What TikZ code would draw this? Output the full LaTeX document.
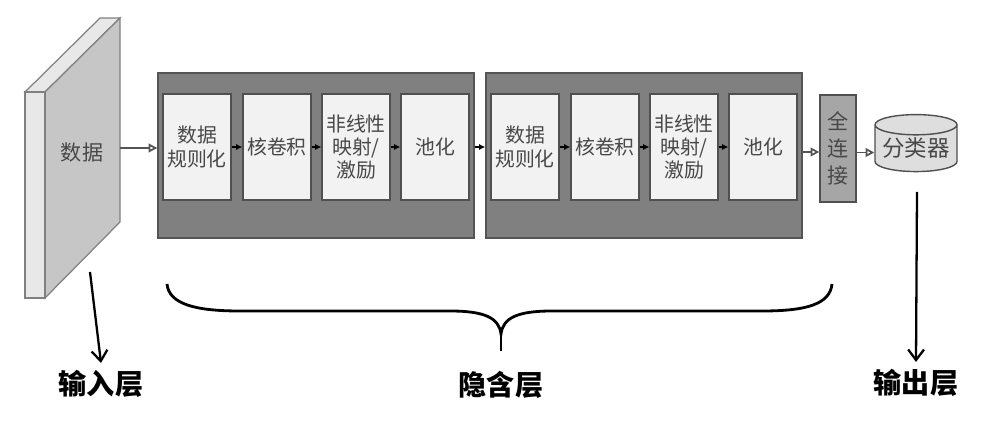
\documentclass[tikz,border=0pt]{standalone}
\usepackage{fontspec}
\usepackage{tikz}
\usetikzlibrary{arrows.meta,shapes.geometric}
\newfontfamily\cjk{Noto Sans CJK SC}

\definecolor{stagegray}{HTML}{808080}
\definecolor{stageedge}{HTML}{555555}
\definecolor{layerfill}{HTML}{F2F2F2}
\definecolor{layeredge}{HTML}{505050}
\definecolor{textgray}{HTML}{484848}
\definecolor{slabfront}{HTML}{E8E8E8}
\definecolor{slabside}{HTML}{C6C6C6}
\definecolor{fcgray}{HTML}{A6A6A6}
\definecolor{clsfill}{HTML}{DEDEDE}
\definecolor{arrowgray}{HTML}{555555}

\begin{document}
\begin{tikzpicture}[x=0.02cm,y=-0.02cm,
    stage/.style={draw=stageedge,fill=stagegray,line width=0.8pt,
      minimum width=6.32cm,minimum height=3.3cm,inner sep=0pt},
    layer/.style={draw=layeredge,fill=layerfill,line width=0.8pt,
      minimum width=1.36cm,minimum height=2.12cm,inner sep=0pt,
      align=center,text=textgray,font=\cjk\fontsize{11.3}{13.2}\selectfont},
    fcbox/.style={draw=layeredge,fill=fcgray,line width=0.8pt,
      minimum width=0.72cm,minimum height=2.14cm,inner sep=0pt,
      align=center,text=textgray,font=\cjk\fontsize{12}{15.5}\selectfont},
    openarrow/.style={-{Triangle[open,length=5pt,width=5pt]},draw=arrowgray,line width=1pt},
    smallarrow/.style={-{Latex[length=3.5pt,width=3.5pt]},line width=0.7pt},
    downarrow/.style={-{Straight Barb[length=6pt,width=9pt]},line width=1.3pt},
    layerlabel/.style={font=\cjk\bfseries\fontsize{16}{18}\selectfont,inner sep=4pt}]
  \useasboundingbox (0,0) rectangle (1001,432);

  % input data slab
  \draw[draw=gray,fill=slabfront,line width=0.7pt] (25,92) -- (100,18) -- (120,18) -- (45,92) -- cycle;
  \draw[draw=gray,fill=slabside,line width=0.7pt] (45,92) -- (120,18) -- (120,222) -- (45,298) -- cycle;
  \draw[draw=gray,fill=slabfront,line width=0.7pt] (25,92) rectangle (45,298);
  \node[text=textgray,font=\cjk\fontsize{12}{14}\selectfont] (data) at (82,153) {数据};
  \coordinate (slab) at (120,148);

  % hidden stages
  \foreach \s/\dx in {1/0,2/328}{
    \node[stage] (s\s) at (316+\dx,155.5) {};
    \node[layer] (s\s-1) at (197+\dx,147) {数据\\规则化};
    \node[layer] (s\s-2) at (277+\dx,147) {核卷积};
    \node[layer] (s\s-3) at (356+\dx,147) {非线性\\映射/\\激励};
    \node[layer] (s\s-4) at (435+\dx,147) {池化};
    \draw[smallarrow] (s\s-1) -- (s\s-2);
    \draw[smallarrow] (s\s-2) -- (s\s-3);
    \draw[smallarrow] (s\s-3) -- (s\s-4);
  }

  % full connection and classifier
  \node[fcbox] (fc) at (838,148.5) {全\\连\\接};
  \node[cylinder,shape border rotate=90,aspect=0.3,draw=layeredge,fill=clsfill,
    line width=0.8pt,minimum width=1.64cm,minimum height=1.14cm,inner sep=0pt,
    text=textgray,font=\cjk\fontsize{12.8}{15}\selectfont] (cls) at (916,148.5) {分类器};

  % connectors
  \draw[openarrow] (slab) -- (slab -| s1.west);
  \draw[smallarrow] (s1-4 -| s1.east) -- (s1-4 -| s2.west);
  \draw[openarrow] ([yshift=-5*0.02cm]s2-4.east -| s2.east) -- ([yshift=-5*0.02cm]s2-4.east -| fc.west);
  \draw[openarrow] ([yshift=-4*0.02cm]fc.east) -- ([yshift=-4*0.02cm]fc.east -| cls.west);

  % layer names
  \node[layerlabel] (inlabel) at (101,384) {输入层};
  \node[layerlabel] (hidlabel) at (501,385) {隐含层};
  \node[layerlabel] (outlabel) at (916,383) {输出层};
  \coordinate (instart) at (90,272);
  \coordinate (outstart) at (917,192);
  \draw[downarrow] (instart) -- (inlabel.north);
  \draw[downarrow] (outstart) -- (outlabel.north);

  % brace over hidden layers
  \draw[line width=1.6pt] (167,284) .. controls (169,304) and (195,311) .. (240,311)
    -- (450,311) .. controls (485,311) and (499,318) .. (501,334)
    .. controls (503,318) and (517,311) .. (552,311)
    -- (762,311) .. controls (807,311) and (830,304) .. (832,284);
  \coordinate (bracetip) at (501,351);
  \draw[line width=1.2pt] (501,330) -- (bracetip);
\end{tikzpicture}
\end{document}
